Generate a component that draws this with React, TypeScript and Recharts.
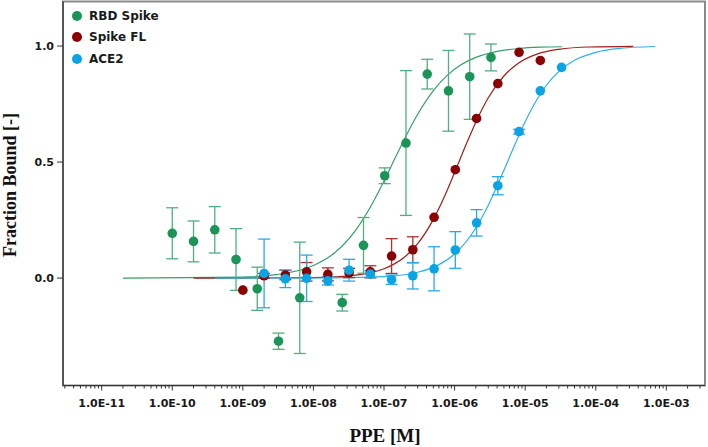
import React from "react";
import {
  ComposedChart,
  Line,
  Scatter,
  ErrorBar,
  XAxis,
  YAxis,
  ReferenceArea,
} from "recharts";

// measured points (concentration in M, fraction bound, error)
const rbdX = [1e-10, 2e-10, 4e-10, 8e-10, 1.6e-9, 3.2e-9, 6.4e-9, 2.56e-8, 5.12e-8, 1.024e-7, 2.048e-7, 4.096e-7, 8.192e-7, 1.638e-6, 3.277e-6];
const rbdY = [0.193, 0.158, 0.208, 0.08, -0.046, -0.272, -0.085, -0.106, 0.141, 0.441, 0.582, 0.879, 0.807, 0.868, 0.951];
const rbdErr = [0.11, 0.088, 0.1, 0.133, 0.093, 0.035, 0.24, 0.036, 0.12, 0.034, 0.312, 0.064, 0.174, 0.184, 0.058];

const spikeX = [1e-9, 2e-9, 4e-9, 8e-9, 1.6e-8, 3.2e-8, 6.4e-8, 1.28e-7, 2.56e-7, 5.12e-7, 1.024e-6, 2.048e-6, 4.096e-6, 8.192e-6, 1.638e-5];
const spikeY = [-0.052, 0.01, 0.013, 0.027, 0.016, 0.022, 0.027, 0.095, 0.122, 0.262, 0.467, 0.688, 0.838, 0.973, 0.938];
const spikeErr = [0, 0.01, 0.02, 0.04, 0.028, 0.02, 0.026, 0.075, 0.056, 0, 0, 0, 0, 0, 0];

const aceX = [2e-9, 4e-9, 8e-9, 1.6e-8, 3.2e-8, 6.4e-8, 1.28e-7, 2.56e-7, 5.12e-7, 1.024e-6, 2.048e-6, 4.096e-6, 8.192e-6, 1.638e-5, 3.277e-5];
const aceY = [0.02, -0.003, -0.001, -0.012, 0.034, 0.017, -0.007, 0.01, 0.04, 0.121, 0.238, 0.398, 0.631, 0.807, 0.908];
const aceErr = [0.148, 0.038, 0.1, 0.018, 0.047, 0.015, 0.02, 0.057, 0.095, 0.079, 0.057, 0.039, 0.01, 0, 0];

// fitted curves
const rbdFitX = [2e-11, 1e-9, 3e-9, 1e-8, 2e-8, 4e-8, 7e-8, 1e-7, 1.5e-7, 2e-7, 3e-7, 5e-7, 8e-7, 1.2e-6, 2e-6, 4e-6, 8e-6, 1.6e-5, 3.3e-5];
const rbdFitY = [0, 0.0045, 0.015, 0.054, 0.109, 0.208, 0.327, 0.418, 0.529, 0.606, 0.706, 0.808, 0.876, 0.917, 0.951, 0.977, 0.989, 0.995, 0.997];

const spikeFitX = [2e-10, 1e-9, 1e-8, 3e-8, 6e-8, 1e-7, 2e-7, 3e-7, 5e-7, 7e-7, 1e-6, 1.5e-6, 2e-6, 3e-6, 5e-6, 8e-6, 1.5e-5, 3e-5, 8e-5, 3.4e-4];
const spikeFitY = [0, 0.0001, 0.0021, 0.0087, 0.021, 0.04, 0.093, 0.148, 0.253, 0.344, 0.455, 0.585, 0.672, 0.777, 0.871, 0.926, 0.966, 0.986, 0.996, 0.999];

const aceFitX = [4e-10, 1e-8, 1e-7, 3e-7, 6e-7, 1e-6, 2e-6, 3e-6, 5e-6, 7e-6, 1e-5, 1.5e-5, 2e-5, 3e-5, 5e-5, 1e-4, 2e-4, 6.9e-4];
const aceFitY = [0, 0.0004, 0.0065, 0.025, 0.058, 0.104, 0.216, 0.314, 0.465, 0.569, 0.674, 0.774, 0.831, 0.891, 0.939, 0.973, 0.989, 0.998];

const majorTicks = [1e-11, 1e-10, 1e-9, 1e-8, 1e-7, 1e-6, 1e-5, 1e-4, 1e-3];
const majorLabels = ["1.0E-11", "1.0E-10", "1.0E-09", "1.0E-08", "1.0E-07", "1.0E-06", "1.0E-05", "1.0E-04", "1.0E-03"];
const minorSteps = [2, 3, 4, 5, 6, 7, 8, 9];
const yTicks = [0, 0.5, 1.0];

const X_DOMAIN: [number, number] = [2.83e-12, 3.53e-3];
const Y_DOMAIN: [number, number] = [-0.463, 1.192];

const series = [
  { name: "RBD Spike", dot: "#1b9557", line: "#34a068", err: "#4fb07f" },
  { name: "Spike FL", dot: "#8b0000", line: "#a31b1b", err: "#b03030" },
  { name: "ACE2", dot: "#0aa3e6", line: "#2eb0ee", err: "#2aa9ea" },
];

const zip = (xs: number[], ys: number[], es?: number[]) =>
  xs.map((x, i) => ({ x, y: ys[i], err: es ? es[i] : 0 }));

const rbdPts = zip(rbdX, rbdY, rbdErr);
const spikePts = zip(spikeX, spikeY, spikeErr);
const acePts = zip(aceX, aceY, aceErr);
const rbdFit = zip(rbdFitX, rbdFitY);
const spikeFit = zip(spikeFitX, spikeFitY);
const aceFit = zip(aceFitX, aceFitY);

const allTicks: number[] = [3e-12, 4e-12, 5e-12, 6e-12, 7e-12, 8e-12, 9e-12];
majorTicks.forEach((m) => {
  [1, ...minorSteps].forEach((s) => {
    const v = m * s;
    if (v >= X_DOMAIN[0] && v <= X_DOMAIN[1]) allTicks.push(v);
  });
});

const XTick = (props: any) => {
  const { x, y, payload } = props;
  const idx = majorTicks.findIndex((m) => Math.abs(m - payload.value) / m < 1e-6);
  const major = idx >= 0;
  return (
    <g>
      <line x1={x} y1={y} x2={x} y2={y + (major ? 5 : 3)} stroke="#333" strokeWidth={1} />
      {major && (
        <text
          x={x}
          y={y + 21}
          textAnchor="middle"
          fontFamily="DejaVu Sans"
          fontWeight="bold"
          fontSize={11}
          fill="#1a1a1a"
        >
          {majorLabels[idx]}
        </text>
      )}
    </g>
  );
};

const Dot = (props: any) => {
  const { cx, cy, fill } = props;
  return <circle cx={cx} cy={cy} r={4.8} fill={fill} />;
};

const LegendBox = () => (
  <div
    style={{
      position: "absolute",
      left: 72,
      top: 5,
      fontFamily: "DejaVu Sans",
      fontWeight: "bold",
      fontSize: 12,
      color: "#1a1a1a",
    }}
  >
    {series.map((s) => (
      <div key={s.name} style={{ display: "flex", alignItems: "center", height: 21.5 }}>
        <span
          style={{
            display: "inline-block",
            width: 10,
            height: 10,
            borderRadius: 5,
            background: s.dot,
            marginRight: 7,
          }}
        />
        {s.name}
      </div>
    ))}
  </div>
);

export default function App() {
  return (
    <div style={{ position: "absolute", left: 0, top: 0, width: 708, height: 447, background: "#fff" }}>
      <ComposedChart width={708} height={447} margin={{ top: 1.5, right: 3, left: 0, bottom: 0 }}>
        <XAxis
          dataKey="x"
          type="number"
          scale="log"
          domain={X_DOMAIN}
          allowDataOverflow
          ticks={allTicks}
          interval={0}
          tick={<XTick />}
          tickLine={false}
          tickSize={0}
          tickMargin={0}
          height={61.5}
          axisLine={{ stroke: "#333", strokeWidth: 1.2 }}
        />
        <YAxis
          dataKey="y"
          type="number"
          domain={Y_DOMAIN}
          allowDataOverflow
          ticks={yTicks}
          interval={0}
          width={63}
          tickSize={6}
          tickMargin={3}
          tickFormatter={(v: number) => v.toFixed(1)}
          tick={{ fontFamily: "DejaVu Sans", fontWeight: "bold", fontSize: 11, fill: "#1a1a1a" }}
          tickLine={{ stroke: "#333" }}
          axisLine={{ stroke: "#333", strokeWidth: 1.2 }}
        />
        <ReferenceArea
          x1={X_DOMAIN[0]}
          x2={X_DOMAIN[1]}
          y1={Y_DOMAIN[0]}
          y2={Y_DOMAIN[1]}
          fill="none"
          stroke="#8a8a8a"
          strokeWidth={2}
          ifOverflow="visible"
        />
        <Line data={rbdFit} dataKey="y" type="monotone" stroke={series[0].line} strokeWidth={1.2} dot={false} isAnimationActive={false} />
        <Line data={spikeFit} dataKey="y" type="monotone" stroke={series[1].line} strokeWidth={1.2} dot={false} isAnimationActive={false} />
        <Line data={aceFit} dataKey="y" type="monotone" stroke={series[2].line} strokeWidth={1.2} dot={false} isAnimationActive={false} />
        <Scatter name={series[0].name} data={rbdPts} dataKey="y" fill={series[0].dot} shape={<Dot />} isAnimationActive={false}>
          <ErrorBar dataKey="err" direction="y" width={6} stroke={series[0].err} strokeWidth={1.3} />
        </Scatter>
        <Scatter name={series[1].name} data={spikePts} dataKey="y" fill={series[1].dot} shape={<Dot />} isAnimationActive={false}>
          <ErrorBar dataKey="err" direction="y" width={6} stroke={series[1].err} strokeWidth={1.3} />
        </Scatter>
        <Scatter name={series[2].name} data={acePts} dataKey="y" fill={series[2].dot} shape={<Dot />} isAnimationActive={false}>
          <ErrorBar dataKey="err" direction="y" width={6} stroke={series[2].err} strokeWidth={1.3} />
        </Scatter>
      </ComposedChart>
      <LegendBox />
      <svg width={708} height={447} style={{ position: "absolute", left: 0, top: 0, pointerEvents: "none" }}>
        <text
          x={16}
          y={185}
          transform="rotate(-90 16 185)"
          textAnchor="middle"
          fontFamily="Liberation Serif"
          fontWeight="bold"
          fontSize={18}
          fill="#111"
        >
          Fraction Bound [-]
        </text>
        <text
          x={385}
          y={441.5}
          textAnchor="middle"
          fontFamily="Liberation Serif"
          fontWeight="bold"
          fontSize={19}
          fill="#111"
        >
          PPE [M]
        </text>
      </svg>
    </div>
  );
}
